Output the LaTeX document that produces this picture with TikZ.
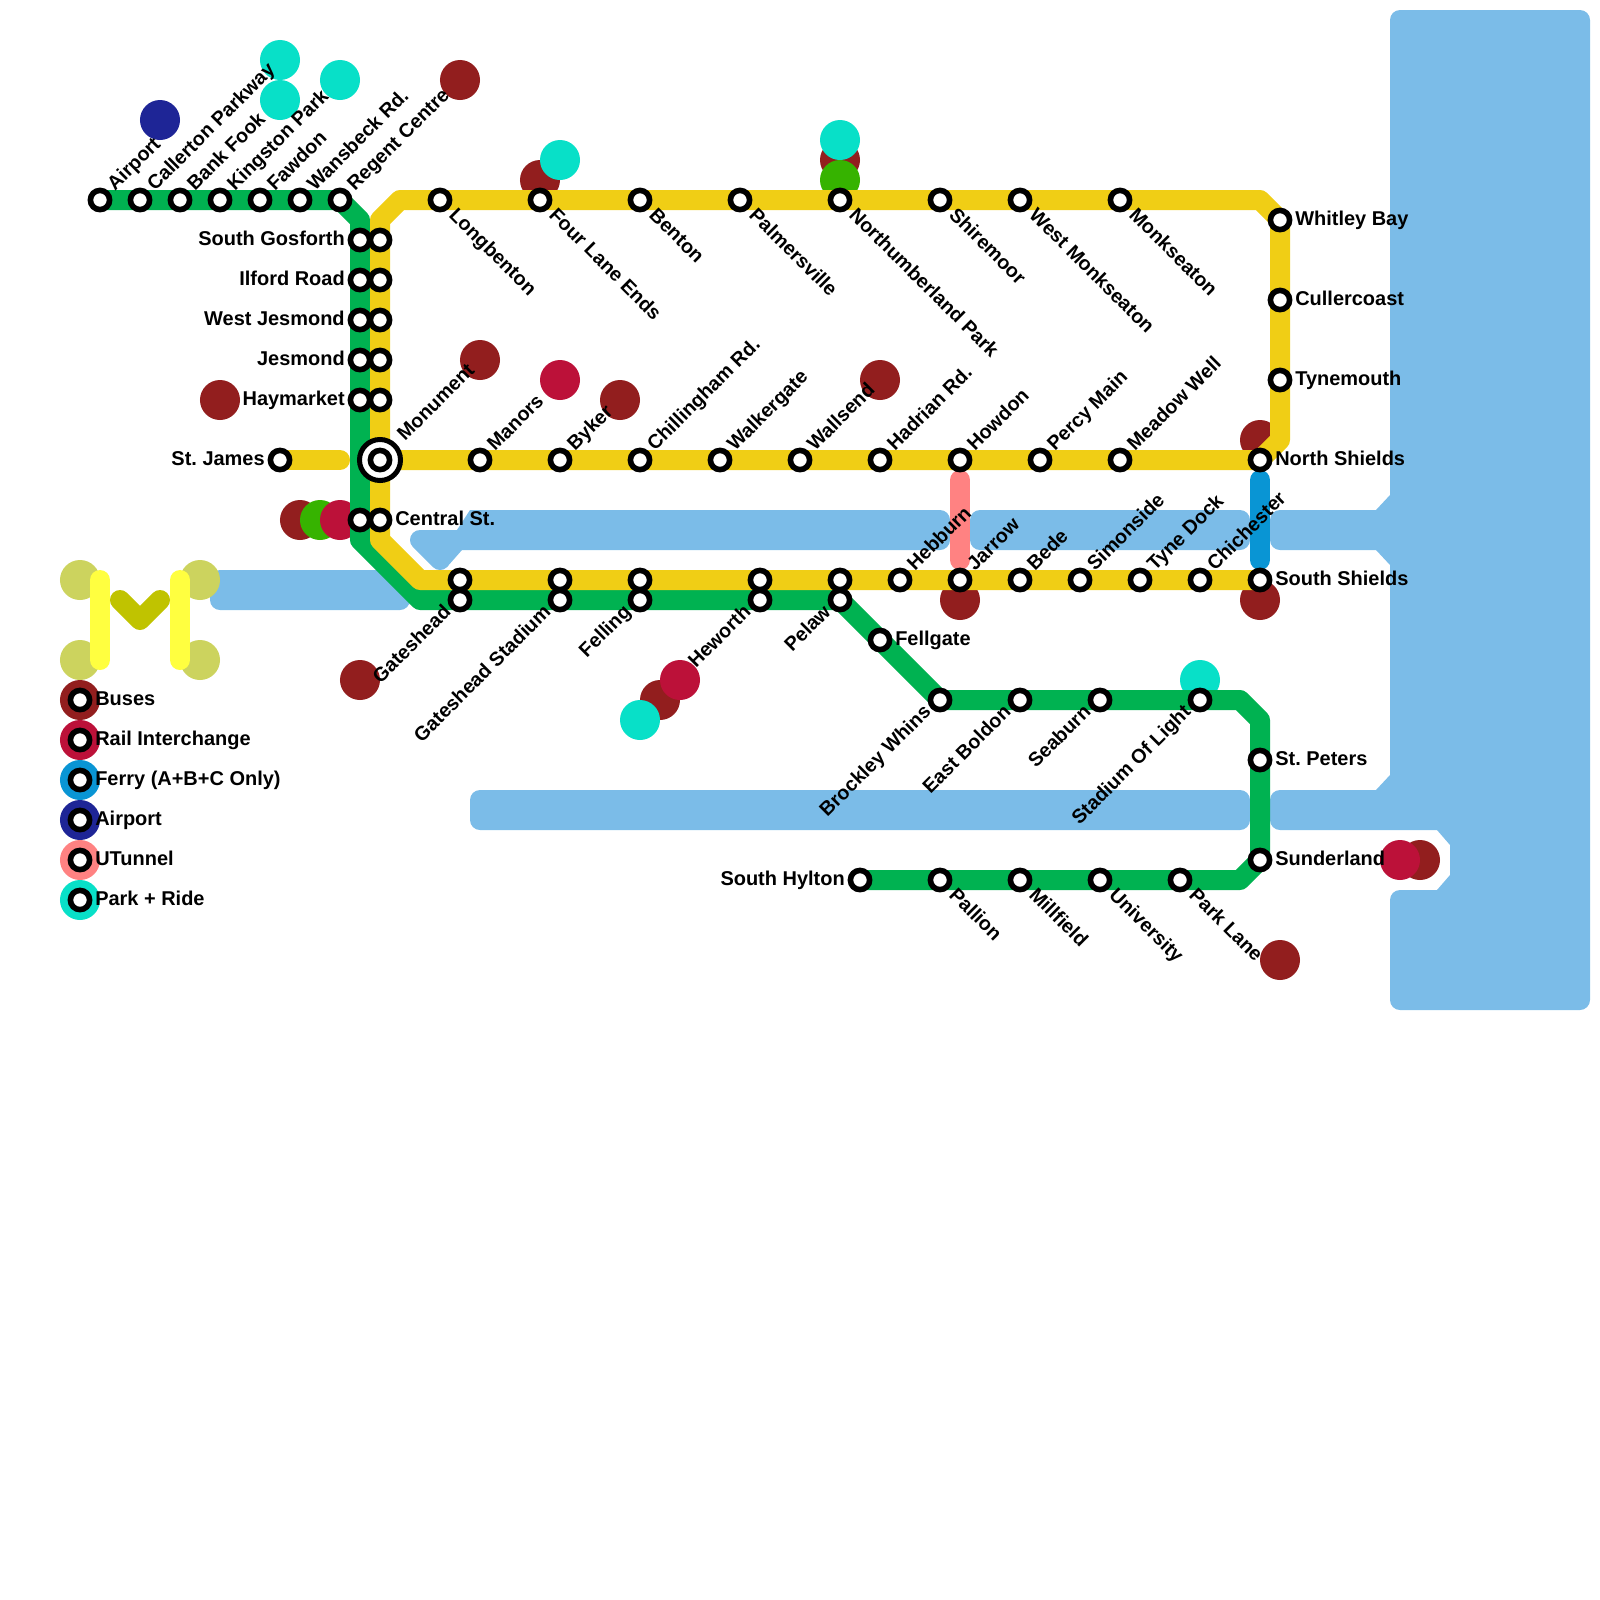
\documentclass[tikz,border=0pt]{standalone}
\usepackage{fontspec}
\setmainfont{Liberation Sans}
\frenchspacing
\definecolor{metroyellow}{HTML}{F0CE15}
\definecolor{metrogreen}{HTML}{00B251}
\definecolor{busbrown}{HTML}{921E1E}
\definecolor{railred}{HTML}{BC1139}
\definecolor{parkteal}{HTML}{08E0C8}
\definecolor{airnavy}{HTML}{1E2596}
\definecolor{ferryblue}{HTML}{0995D4}
\definecolor{tunnelpink}{HTML}{FF8282}
\definecolor{water}{HTML}{7BBCE8}
\definecolor{leafgreen}{HTML}{36B300}
\definecolor{logodisc}{HTML}{CCD35E}
\definecolor{logobar}{HTML}{FFFF40}
\definecolor{logovee}{HTML}{C0C300}
\pgfdeclarelayer{sea}
\pgfdeclarelayer{spots}
\pgfdeclarelayer{lines}
\pgfsetlayers{sea,spots,lines,main}
\begin{document}
\begin{tikzpicture}[x=.025cm, y=-.025cm,
  stn/.style={circle, draw=black, fill=white, line width=.14cm, minimum size=.48cm, inner sep=0pt, outer sep=0pt},
  spot/.style={circle, minimum size=1cm, inner sep=0pt, outer sep=0pt},
  metro/.style={line width=.5cm, line cap=round, line join=round},
  txt/.style={font=\bfseries\fontsize{14.2}{14.2}\selectfont, inner sep=0pt, text height=10pt, text depth=0pt},
  slant/.style={txt, font=\bfseries\fontsize{14}{14}\selectfont},
  upr/.style={slant, anchor=west, shift={(10,-13)}, rotate=45},
  dnr/.style={slant, anchor=west, shift={(13,11)}, rotate=-45},
  dnl/.style={slant, anchor=east, shift={(-13,8)}, rotate=45},
  lft/.style={txt, anchor=east, shift={(-15,-2)}},
  rgt/.style={txt, anchor=west, shift={(15,-2)}},
  upfar/.style={slant, anchor=west, shift={(20,-23)}, rotate=45}]
\useasboundingbox (0,0) rectangle (1600,1600);
\begin{pgfonlayer}{sea}
\fill[water, rounded corners=.25cm] (210,570)--(385,570)--(410,595)--(410,610)--(210,610)--cycle;
\fill[water] (447,567)--(462,550)[rounded corners=.25cm]--(950,550)--(950,510)[sharp corners]--(470,510)--(457,530)--(420,530)--cycle;
\draw[water, line width=.5cm, line cap=round] (420,540)--(440,560);
\fill[water, rounded corners=.25cm] (970,510)--(1250,510)--(1250,550)--(970,550)--cycle;
\fill[water, rounded corners=.25cm] (470,790)--(1250,790)--(1250,830)--(470,830)--cycle;
\fill[water] [rounded corners=.25cm] (1490,10)--(1590,10)--(1590,1010)--(1390,1010)--(1390,890) [sharp corners] --(1437,890)--(1450,875)--(1450,845)--(1437,830) [rounded corners=.25cm] --(1270,830)--(1270,790) [sharp corners] --(1376,790)--(1390,775)--(1390,565)--(1376,550) [rounded corners=.25cm] --(1270,550)--(1270,510) [sharp corners] --(1376,510)--(1390,495) [rounded corners=.25cm] --(1390,10)--cycle;
\end{pgfonlayer}
\begin{pgfonlayer}{spots}
\foreach \n/\x/\y/\c in {
  a/80/580/logodisc, b/200/580/logodisc, c/80/660/logodisc, d/200/660/logodisc,
  e/460/80/busbrown, f/540/180/busbrown, g/840/160/busbrown, h/480/360/busbrown,
  i/620/400/busbrown, j/880/380/busbrown, k/220/400/busbrown, l/300/520/busbrown,
  m/1260/440/busbrown, o/960/600/busbrown, p/1260/600/busbrown, q/360/680/busbrown,
  r/660/700/busbrown, s/1420/860/busbrown, t/1280/960/busbrown,
  u/320/520/leafgreen, v/840/180/leafgreen,
  w/340/520/railred, z/560/380/railred, aa/680/680/railred, ab/1400/860/railred,
  ac/160/120/airnavy,
  ad/280/60/parkteal, ae/280/100/parkteal, af/340/80/parkteal, ag/560/160/parkteal,
  ah/840/140/parkteal, ai/640/720/parkteal, aj/1200/680/parkteal}
  \node[spot, fill=\c] (spot-\n) at (\x,\y) {};
\foreach \n/\y/\c in {buses/700/busbrown, rail/740/railred, ferry/780/ferryblue,
  airport/820/airnavy, utunnel/860/tunnelpink, park/900/parkteal}
  \node[spot, fill=\c] (key-\n) at (80,\y) {};
\end{pgfonlayer}
\node[circle, draw=black, fill=white, line width=.125cm, minimum size=1.025cm, inner sep=0pt, outer sep=0pt] (hub) at (380,460) {};
\foreach \s/\x/\y/\p/\t in {
  airportstn/100/200/upr/Airport, callerton/140/200/upr/Callerton Parkway, bankfook/180/200/upr/Bank Fook,
  kingston/220/200/upr/Kingston Park, fawdon/260/200/upr/Fawdon, wansbeck/300/200/upr/Wansbeck Rd.,
  regent/340/200/upr/Regent Centre,
  sgosforth/360/240/lft/South Gosforth, ilford/360/280/lft/Ilford Road, wjesmond/360/320/lft/West Jesmond,
  jesmond/360/360/lft/Jesmond, haymarket/360/400/lft/Haymarket, stjames/280/460/lft/St. James,
  central/380/520/rgt/Central St., monument/380/460/upfar/Monument,
  longbenton/440/200/dnr/Longbenton, fourlane/540/200/dnr/Four Lane Ends, benton/640/200/dnr/Benton,
  palmersville/740/200/dnr/Palmersville, northumberland/840/200/dnr/Northumberland Park,
  shiremoor/940/200/dnr/Shiremoor, wmonkseaton/1020/200/dnr/West Monkseaton, monkseaton/1120/200/dnr/Monkseaton,
  whitley/1280/220/rgt/Whitley Bay, cullercoast/1280/300/rgt/Cullercoast, tynemouth/1280/380/rgt/Tynemouth,
  manors/480/460/upr/Manors, byker/560/460/upr/Byker, chillingham/640/460/upr/Chillingham Rd.,
  walkergate/720/460/upr/Walkergate, wallsend/800/460/upr/Wallsend, hadrian/880/460/upr/Hadrian Rd.,
  howdon/960/460/upr/Howdon, percy/1040/460/upr/Percy Main, meadow/1120/460/upr/Meadow Well,
  nshields/1260/460/rgt/North Shields,
  hebburn/900/580/upr/Hebburn, jarrow/960/580/upr/Jarrow, bede/1020/580/upr/Bede,
  simonside/1080/580/upr/Simonside, tynedock/1140/580/upr/Tyne Dock, chichester/1200/580/upr/Chichester,
  sshields/1260/580/rgt/South Shields,
  gateshead/460/600/dnl/Gateshead, gstadium/560/600/dnl/Gateshead Stadium, felling/640/600/dnl/Felling,
  heworth/760/600/dnl/Heworth, pelaw/840/600/dnl/Pelaw, fellgate/880/640/rgt/Fellgate,
  brockley/940/700/dnl/Brockley Whins, eboldon/1020/700/dnl/East Boldon, seaburn/1100/700/dnl/Seaburn,
  stadium/1200/700/dnl/Stadium Of Light, stpeters/1260/760/rgt/St. Peters, sunderland/1260/860/rgt/Sunderland,
  parklane/1180/880/dnr/Park Lane, university/1100/880/dnr/University, millfield/1020/880/dnr/Millfield,
  pallion/940/880/dnr/Pallion, shylton/860/880/lft/South Hylton}{
  \node[stn] (\s) at (\x,\y) {};
  \node[\p] (\s-name) at (\s) {\t};
}
\foreach \s/\x/\y in {
  sgosforthb/380/240, ilfordb/380/280, wjesmondb/380/320, jesmondb/380/360, haymarketb/380/400,
  centralb/360/520, gatesheadb/460/580, gstadiumb/560/580, fellingb/640/580, heworthb/760/580, pelawb/840/580}
  \node[stn] (\s) at (\x,\y) {};
\foreach \n/\y/\t in {buses/700/Buses, rail/740/Rail Interchange, ferry/780/Ferry (A+B+C Only),
  airport/820/Airport, utunnel/860/UTunnel, park/900/Park + Ride}{
  \node[stn] (stn-\n) at (key-\n) {};
  \node[rgt] (name-\n) at (key-\n) {\t};
}
\coordinate (gtop) at (360,220);
\coordinate (gmid) at (360,540);
\coordinate (gfoot) at (420,600);
\coordinate (geast) at (1240,700);
\coordinate (gturn) at (1260,720);
\coordinate (gsouth) at (1240,880);
\coordinate (ytop) at (380,220);
\coordinate (ytopb) at (400,200);
\coordinate (yeast) at (1260,200);
\coordinate (yturn) at (1280,440);
\coordinate (ymid) at (380,540);
\coordinate (yfoot) at (420,580);
\coordinate (jamesend) at (340,460);
\coordinate (ferrytop) at (1260,480);
\coordinate (ferryend) at (1260,560);
\coordinate (tunneltop) at (960,480);
\coordinate (tunnelend) at (960,560);
\begin{pgfonlayer}{lines}
\draw[metro, metrogreen] (airportstn.center)--(regent.center)--(gtop)--(gmid)--(gfoot)--(pelaw.center)--(brockley.center)--(geast)--(gturn)--(sunderland.center)--(gsouth)--(shylton.center);
\draw[metro, metroyellow] (stjames.center)--(jamesend);
\draw[metro, metroyellow] (sshields.center)--(yfoot)--(ymid)--(ytop)--(ytopb)--(yeast)--(whitley.center)--(yturn)--(nshields.center)--(monument.center);
\draw[metro, ferryblue] (ferrytop)--(ferryend);
\draw[metro, tunnelpink] (tunneltop)--(tunnelend);
\coordinate (bartop) at (100,580);
\coordinate (barend) at (100,660);
\coordinate (bartopb) at (180,580);
\coordinate (barendb) at (180,660);
\coordinate (veeleft) at (120,600);
\coordinate (veemid) at (140,620);
\coordinate (veeright) at (160,600);
\draw[metro, logobar] (bartop)--(barend);
\draw[metro, logobar] (bartopb)--(barendb);
\draw[metro, logovee] (veeleft)--(veemid)--(veeright);
\end{pgfonlayer}
\end{tikzpicture}
\end{document}
